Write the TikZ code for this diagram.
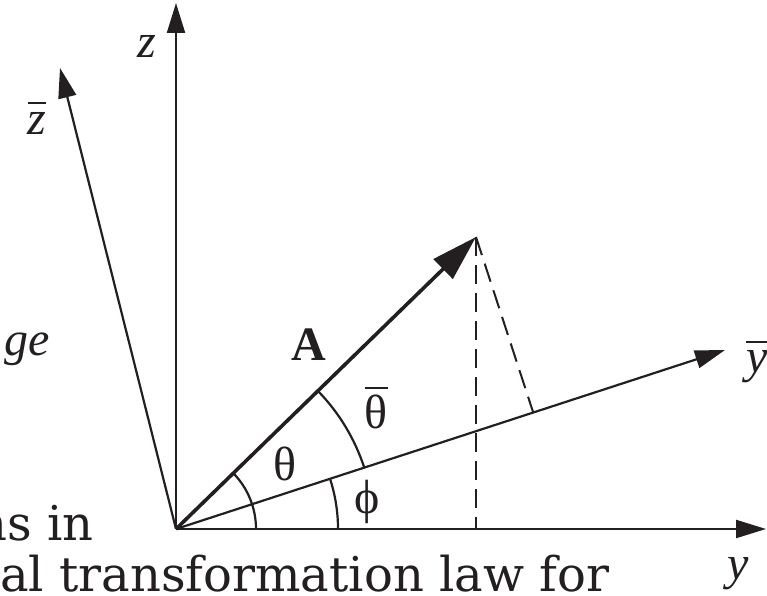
\documentclass[tikz,border=0pt]{standalone}
\usepackage{fontspec}
\setmainfont{Liberation Serif}
\newfontfamily\djserif{DejaVu Serif}
\usetikzlibrary{arrows.meta,calc}
\definecolor{ink}{HTML}{231F20}
\newcommand\barred[2][8pt]{\vbox{\hrule height 2pt\kern#1\hbox{#2}}}
\begin{document}
\begin{tikzpicture}[x=1pt,y=1pt,
  axis/.style={draw=ink,line width=2.2pt,-{Triangle[length=30pt,width=18pt]}},
  vec/.style={draw=ink,line width=3.6pt,-{Triangle[length=46pt,width=27pt]}},
  guide/.style={draw=ink,line width=2pt,dash pattern=on 19pt off 9pt},
  angarc/.style={draw=ink,line width=2.2pt},
  lbl/.style={inner sep=0pt,text=ink,font=\fontsize{48}{58}\selectfont},
  frag/.style={inner sep=0pt,text=ink,font=\djserif\fontsize{48}{58}\selectfont}]
\useasboundingbox (0,0) rectangle (767,595);
% points
\coordinate (O) at (176,66);
\coordinate (zt) at (176,592);
\coordinate (zbt) at (60,527);
\coordinate (yt) at (766,66);
\coordinate (ybt) at (725,245);
\coordinate (At) at (476,358);
\coordinate (vf) at (At |- O);
\coordinate (foot) at ($(O)!(At)!(ybt)$);
% axes
\draw[axis] (O) -- (zt);
\draw[axis] (O) -- (zbt);
\draw[axis] (O) -- (yt);
\draw[axis] (O) -- (ybt);
% dashed projections
\draw[guide] (At) -- (vf);
\draw[guide] (At) -- (foot);
% angle arcs
\draw[angarc] ([shift={(0:80)}]O) arc[start angle=0,end angle=44.2,radius=80];
\draw[angarc] ([shift={(0:162)}]O) arc[start angle=0,end angle=18.06,radius=162];
\draw[angarc] ([shift={(18.06:198)}]O) arc[start angle=18.06,end angle=44.2,radius=198];
% vector A
\draw[vec] (O) -- (At);
% labels
\node[lbl] (lz) at (147,549) {\itshape z};
\node[lbl] (lzb) at (37,477) {\barred{\itshape z}};
\node[lbl] (lyb) at (757,233) {\barred{\itshape y}};
\node[lbl] (ly) at (738,21) {\itshape y};
\node[lbl] (lA) at (309,250) {\bfseries A};
\node[lbl] (lth) at (285,131) {θ};
\node[lbl] (lthb) at (376,187) {\barred[6pt]{θ}};
\node[lbl] (lph) at (367,93) {ϕ};
% surrounding text fragments
\node[lbl,anchor=base east] (fge) at (50,240) {\itshape ge};
\node[frag,anchor=base east] (fns) at (94,55) {ns in};
\node[frag,anchor=base west] (fal) at (0,4) {al transformation law for};
\end{tikzpicture}
\end{document}
